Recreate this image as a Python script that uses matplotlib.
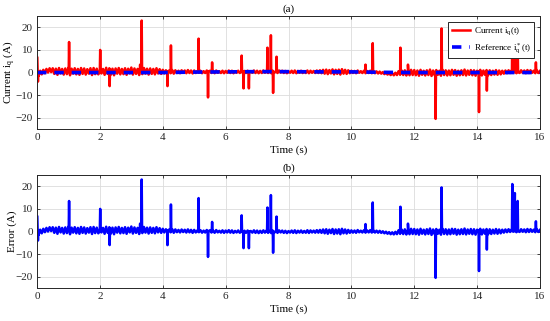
import numpy as np
import matplotlib
matplotlib.use("Agg")
import matplotlib.pyplot as plt

plt.rcParams['font.family'] = ['Liberation Serif', 'DejaVu Serif']
plt.rcParams['mathtext.fontset'] = 'custom'
plt.rcParams['mathtext.rm'] = 'Liberation Serif'
plt.rcParams['mathtext.it'] = 'Liberation Serif:italic'

# ---------------- data ----------------
band_dt = 0.1  # step of the noise-band samples (s)
band_hi = [
    1.0, 0.8, 1.2, 1.6, 1.9,
    1.9, 1.7, 2.0, 1.6, 1.8, 2.1, 1.7, 1.9, 1.6, 2.0,
    1.8, 1.5, 1.9, 2.0, 1.7, 1.8, 1.6, 2.1, 1.9, 1.7,
    1.8, 2.0, 1.6, 1.9, 1.7, 2.2, 1.8, 1.6, 1.9, 2.0,
    1.7, 1.8, 1.6, 1.9, 1.5,
    1.2, 1.0, 0.9, 1.1, 1.0, 0.8, 1.0, 0.9, 1.1, 0.9,
    0.9, 0.7, 0.8, 0.6, 0.9, 0.8, 0.7, 0.9, 0.6, 0.8,
    0.7, 0.9, 0.8, 0.6, 0.8, 0.9, 0.7, 0.8, 0.6, 0.9,
    0.8, 0.7, 0.9, 0.8, 0.6, 0.8, 0.7, 0.9, 0.8, 0.7,
    0.6, 0.8, 0.9, 0.7, 0.8, 0.6, 0.9, 0.8, 0.7, 0.9,
    1.0, 1.2, 1.3, 1.1, 1.4, 1.2, 1.3, 1.5, 1.2, 1.0,
    0.8, 0.7, 0.9, 0.6, 0.8, 0.7, 0.8, 0.6, 0.5, 0.4,
    0.2, 0.0, -0.2, -0.3, -0.1, 0.6, 0.9, 1.0, 1.1, 1.2,
    1.1, 0.9, 1.2, 0.8, 1.0, 1.3, 0.9, 1.1, 0.8, 1.2,
    1.0, 0.9, 1.2, 1.1, 0.8, 1.0, 1.3, 0.9, 1.1, 1.0,
    0.8, 1.2, 0.9, 1.1, 1.0, 0.8, 1.1, 0.9,
    0.8, 0.9, 1.0, 0.9, 1.1, 0.8, 1.0, 0.9, 1.1, 1.0, 0.8, 0.9, 0.7,
]
band_lo = [
    -1.5, -0.8, -0.3, 0.0, 0.2,
    -0.6, -1.0, -0.4, -0.9, -0.7, -1.2, -0.5, -0.8, -1.0, -0.6,
    -0.9, -0.5, -1.1, -0.7, -0.8, -0.4, -1.0, -0.6, -0.9, -1.2,
    -0.5, -0.8, -0.7, -1.0, -0.4, -0.9, -0.6, -1.1, -0.7, -0.5,
    -0.9, -0.6, -0.8, -0.4, -0.6,
    -0.4, -0.2, -0.3, -0.5, -0.2, -0.3, -0.1, -0.3, -0.2, -0.4,
    -0.2, -0.1, -0.3, -0.2, 0.0, -0.2, -0.3, -0.1, -0.2, -0.3,
    -0.1, -0.2, -0.3, -0.1, -0.2, 0.0, -0.2, -0.3, -0.1, -0.2,
    -0.3, -0.2, -0.1, -0.2, -0.3, -0.1, -0.2, 0.0, -0.2, -0.3,
    -0.1, -0.2, -0.3, -0.1, -0.2, -0.2, -0.3, -0.1, -0.2, -0.2,
    -0.3, -0.5, -0.7, -0.4, -0.8, -0.6, -0.9, -0.5, -0.6, -0.3,
    -0.2, -0.3, -0.1, -0.2, -0.3, -0.2, -0.3, -0.3, -0.4, -0.5,
    -0.7, -0.9, -1.1, -1.2, -1.1, -1.0, -1.1, -1.3, -1.2, -1.1,
    -1.2, -1.4, -1.0, -1.3, -1.1, -1.5, -1.2, -1.0, -1.4, -1.1,
    -1.3, -1.2, -1.0, -1.4, -1.2, -1.1, -1.3, -1.0, -1.2, -1.4,
    -1.1, -1.3, -1.0, -1.2, -1.1, -0.9, -1.0, -0.8,
    -0.5, -0.3, -0.2, -0.1, -0.3, -0.2, -0.1, -0.3, -0.2, -0.1, -0.3, -0.2, -0.2,
]

spike_t = [0.0, 0.03, 1.02, 2.01, 2.31, 3.28, 3.33, 4.15, 4.26, 5.14,
           5.44, 5.57, 6.51, 6.57, 6.74, 7.33, 7.44, 7.51, 7.62, 10.45,
           10.68, 11.56, 11.80, 12.68, 12.87, 14.06, 14.31, 15.12, 15.20, 15.29,
           15.87]
spike_v = [7, -4, 13.5, 10, -6, 3.5, 23, -6, 12, 15,
           -11, 4.5, 7.5, -7, -7, 11, 16.5, -9, 7, 3.5,
           13, 11, 3.5, -20.5, 19.5, -17.5, -8, 21, 17, 13.5,
           4.5]

ref_t = [0, 1, 2, 3, 4, 5, 6, 7, 8, 9, 10, 11, 12, 13, 14, 15, 16]
ref_v = [0, 0, 0, 0, 0, 0.2, 0.3, 0.4, 0.4, 0.3, 0.3, 0.1, 0, 0, 0, 0, 0]

x_ticks = [0, 2, 4, 6, 8, 10, 12, 14, 16]
y_ticks = [-20, -10, 0, 10, 20]

# ---------------- build series ----------------
n = len(band_hi)
t_hi = np.arange(n) * band_dt
t_lo = t_hi + band_dt / 2
w = 0.012
flank = 0.3
st = np.array(spike_t)
sv = np.array(spike_v, dtype=float)
t_all = np.concatenate([t_hi, t_lo, st - w, st, st + w])
v_all = np.concatenate([np.array(band_hi), np.array(band_lo),
                        np.full(len(st), flank), sv, np.full(len(st), flank)])
order = np.argsort(t_all, kind='stable')
t_cur = t_all[order]
i_cur = v_all[order]
keep = t_cur <= 16.0
t_cur, i_cur = t_cur[keep], i_cur[keep]
err = i_cur - np.interp(t_cur, ref_t, ref_v)

# ---------------- figure ----------------
fig = plt.figure(figsize=(5.5, 3.21), dpi=100)
ax1 = fig.add_axes([0.0673, 0.598, 0.9145, 0.352])
ax2 = fig.add_axes([0.0673, 0.1028, 0.9145, 0.352])

fs = 8
for ax in (ax1, ax2):
    ax.set_xlim(0, 16)
    ax.set_ylim(-25, 25)
    ax.set_xticks(x_ticks)
    ax.set_yticks(y_ticks)
    ax.grid(True, color='#dcdcdc', lw=0.6)
    ax.set_axisbelow(True)
    ax.tick_params(direction='in', top=True, right=True, length=2.5,
                   width=0.6, labelsize=fs, colors='#262626', pad=3)
    for s in ax.spines.values():
        s.set_color('#262626')
        s.set_linewidth(0.7)
    ax.set_xlabel('Time (s)', fontsize=fs, labelpad=2)

ax1.plot(t_cur, i_cur, color='#ff0000', lw=1.8, label='Current i$_\\mathrm{q}$(t)')
ax1.plot(ref_t, ref_v, color='#0000ff', lw=2.6, linestyle=(0, (2.6, 2.2)),
         label='Reference i$^*_\\mathrm{q}$(t)')
ax1.set_ylabel('Current i$_\\mathrm{q}$ (A)', fontsize=fs)
ax1.yaxis.set_label_coords(-0.040, 0.5)
ax1.set_title('(a)', fontsize=fs, pad=3)
leg = ax1.legend(loc='upper right', fontsize=6.6, fancybox=False, framealpha=1,
                 edgecolor='#262626', handlelength=2.0, borderaxespad=0.65,
                 borderpad=0.35, labelspacing=0.45, handletextpad=0.4)
leg.get_frame().set_linewidth(0.7)

ax2.plot(t_cur, err, color='#0000ff', lw=1.8)
ax2.set_ylabel('Error (A)', fontsize=fs)
ax2.yaxis.set_label_coords(-0.040, 0.5)
ax2.set_title('(b)', fontsize=fs, pad=3)

fig.savefig('out.png', dpi=100)
